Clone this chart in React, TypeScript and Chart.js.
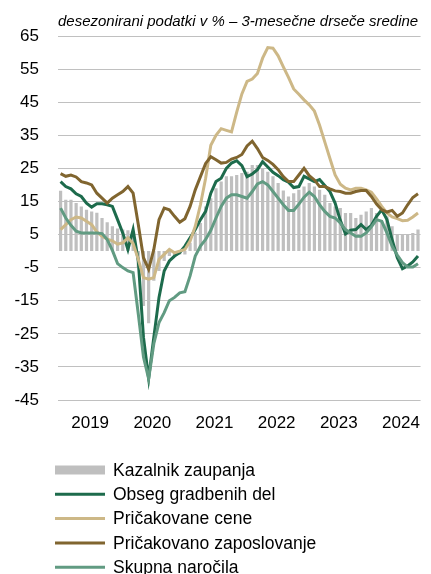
import React, { useEffect, useRef } from 'react';
import { Chart, registerables } from 'chart.js';

Chart.register(...registerables);

// ---- data ----
const YEARS = [2019, 2020, 2021, 2022, 2023, 2024];
const LAST_YEAR_MONTHS = 10;
const categories: string[] = [];
YEARS.forEach((y, k) => {
  const n = k === YEARS.length - 1 ? LAST_YEAR_MONTHS : 12;
  for (let m = 1; m <= n; m++) categories.push(`${m}/${y}`);
});

const Y_TICKS = [-45, -35, -25, -15, -5, 5, 15, 25, 35, 45, 55, 65];

const kazalnikZaupanja = [
  18.2, 15.5, 15.5, 14.5, 13.5, 12.5, 12, 11.6, 10, 8.7, 7.5, 6.8,
  6.5, 6.3, 6, -5, -16.6, -21.8, -9, -6, -3, -1.5, -1.2, -1,
  -1, 2.5, 5.6, 8.5, 13.5, 16, 19, 21, 22.6, 22.6, 23, 23.6,
  24, 26, 26, 25, 24, 22.6, 20.6, 18.3, 16.5, 17.5, 18.5, 19.5,
  20.6, 19.5, 18.5, 17, 14.5, 13.5, 13, 11.5, 11.5, 10, 11, 12,
  13, 11.5, 9, 10.5, 7.5, 5, 5, 5, 5.5, 6.5,
];

const obsegGradbenihDel = [
  21, 19.5, 18.8, 17.3, 16.5, 14.5, 13.3, 14.3, 14.3, 14, 13.5, 9.5,
  5.5, 0.5, 6.5, -3, -26, -38.5, -26, -14, -6, -3, -1.5, -0.5,
  1.5, 4, 6.5, 9.5, 12, 17.5, 21, 22, 25, 26.6, 27.3, 25.8,
  22.5, 23.3, 24.6, 27, 25.4, 23.8, 22.8, 21.6, 20.8, 19.2, 19.5, 22.6,
  21.8, 21, 21.6, 19.8, 18, 14.5, 9.3, 5.2, 6.3, 6.5, 8, 6.5,
  7.8, 10.5, 12.5, 9.5, 3.5, -2, -5.3, -4.5, -3.3, -1.5,
];

const pricakovaneCene = [
  6.5, 8, 9.5, 10.3, 10, 9, 8, 5.8, 4.5, 3.6, 3.1, 2.1,
  2.5, 4, 2.3, -2.5, -8, -8.5, -8, -2.5, -1, 0.5, -0.5, 0,
  0.5, 3, 7.5, 14, 22, 32, 35, 37, 36.5, 36, 42, 47.5,
  51.3, 52, 53.7, 58.3, 61.5, 61.3, 59, 55.7, 52.5, 49, 47.4, 45.7,
  44.2, 42.3, 38, 33, 28, 23, 20.2, 19, 18.5, 19, 19, 18.5,
  17.8, 15.8, 13.5, 11.5, 10.3, 9.8, 9.2, 9.3, 10.3, 11.5,
];

const pricakovanoZaposlovanje = [
  23.4, 22.6, 23, 22.4, 21, 20.6, 20, 17.5, 16, 14.5, 16, 17,
  18, 19.5, 17.5, 8, -2, -5.5, 0.5, 9.5, 13, 12.5, 10.5, 8.7,
  9.8, 13.5, 18.5, 22.5, 26.5, 28.5, 27.6, 26.6, 26.8, 27.8, 28.3, 29.2,
  31.8, 33.2, 31, 28.3, 27.4, 26.2, 24.6, 22.5, 21, 21, 23, 25,
  22.8, 21.5, 19.5, 19.5, 18.8, 18.2, 18, 17.5, 17.5, 18, 18.3, 18.3,
  16.5, 14.2, 12.5, 11.8, 12.3, 10.5, 11.5, 14, 16.2, 17.3,
];

const skupnaNarocila = [
  13, 10, 7.8, 6, 5.5, 5.5, 5.5, 5.5, 5.3, 3.5, 0.2, -3.8,
  -5, -6, -6.5, -19, -32, -38.6, -28, -21.6, -18.6, -15, -14, -12.6,
  -12.3, -7.5, -1.5, 1.5, 3.5, 6.3, 10, 13.5, 16, 17, 17, 16.5,
  16, 18, 20.3, 21, 20, 18, 16, 14, 12.3, 12.3, 14.2, 16.3,
  17.8, 16.5, 14, 12, 10.5, 10, 8.5, 6.5, 5.5, 4.5, 4.5, 5.5,
  7.3, 9.5, 9, 5.5, 1.5, -1.2, -3.5, -4.8, -4.8, -3.8,
];

const TITLE = 'desezonirani podatki v % – 3-mesečne drseče sredine';

const SERIES_NAMES = [
  'Kazalnik zaupanja',
  'Obseg gradbenih del',
  'Pričakovane cene',
  'Pričakovano zaposlovanje',
  'Skupna naročila',
];

const COLORS = ['#bfbfbf', '#1d6b4c', '#cdb887', '#80652f', '#619b82'];

const FONT = '"Liberation Sans", Arial, sans-serif';

const titlePlugin = {
  id: 'customTitle',
  afterDraw(chart: any) {
    const ctx = chart.ctx;
    ctx.save();
    ctx.font = `italic 15px ${FONT}`;
    ctx.fillStyle = '#000';
    ctx.textBaseline = 'alphabetic';
    ctx.textAlign = 'left';
    ctx.fillText(TITLE, chart.chartArea.left, 26);
    ctx.restore();
  },
};

const legendPlugin = {
  id: 'customLegend',
  afterDraw(chart: any) {
    const ctx = chart.ctx;
    ctx.save();
    ctx.font = `17.5px ${FONT}`;
    ctx.textBaseline = 'middle';
    ctx.textAlign = 'left';
    const x0 = 55;
    const w = 50;
    chart.data.datasets.forEach((ds: any, k: number) => {
      const y = 470 + k * 24.3;
      if (ds.type === 'bar') {
        ctx.fillStyle = ds.backgroundColor;
        ctx.fillRect(x0, y - 4.5, w, 9);
      } else {
        ctx.strokeStyle = ds.borderColor;
        ctx.lineWidth = 3;
        ctx.beginPath();
        ctx.moveTo(x0, y);
        ctx.lineTo(x0 + w, y);
        ctx.stroke();
      }
      ctx.fillStyle = '#000';
      ctx.fillText(ds.label, x0 + w + 8, y + 1);
    });
    ctx.restore();
  },
};

export default function App() {
  const ref = useRef<HTMLCanvasElement | null>(null);

  useEffect(() => {
    document.body.style.margin = '0';
    const canvas = ref.current;
    if (!canvas) return;
    const seriesData = [
      kazalnikZaupanja,
      obsegGradbenihDel,
      pricakovaneCene,
      pricakovanoZaposlovanje,
      skupnaNarocila,
    ];
    const datasets: any[] = seriesData.map((d, k) => {
      if (k === 0) {
        return {
          type: 'bar',
          label: SERIES_NAMES[k],
          data: d,
          backgroundColor: COLORS[k],
          borderWidth: 0,
          barPercentage: 0.62,
          categoryPercentage: 1,
          order: 10,
        };
      }
      return {
        type: 'line',
        label: SERIES_NAMES[k],
        data: d,
        borderColor: COLORS[k],
        backgroundColor: COLORS[k],
        borderWidth: 3,
        pointRadius: 0,
        tension: 0,
        fill: false,
        order: 5 - k,
      };
    });

    const chart = new Chart(canvas, {
      type: 'bar',
      data: { labels: categories, datasets },
      options: {
        animation: false,
        responsive: true,
        maintainAspectRatio: false,
        layout: { padding: { top: 36, bottom: 139, left: 0, right: 0 } },
        plugins: {
          legend: { display: false },
          title: { display: false },
          tooltip: { enabled: false },
        },
        scales: {
          x: {
            type: 'category',
            offset: true,
            grid: { display: false, drawTicks: false },
            border: { display: false },
            afterFit: (axis: any) => {
              axis.height = 35;
            },
            ticks: {
              autoSkip: false,
              maxRotation: 0,
              minRotation: 0,
              padding: 13,
              labelOffset: -1.5,
              color: '#000',
              font: { family: FONT, size: 17 },
              callback: (_v: any, index: number) => {
                if (index % 12 === 6) return String(YEARS[Math.floor(index / 12)]);
                return '';
              },
            },
          },
          y: {
            min: Y_TICKS[0],
            max: Y_TICKS[Y_TICKS.length - 1],
            afterFit: (axis: any) => {
              axis.width = 58;
            },
            afterBuildTicks: (axis: any) => {
              axis.ticks = Y_TICKS.map((v) => ({ value: v }));
            },
            grid: { color: '#c0c0c0', lineWidth: 1, drawTicks: false },
            border: { display: false },
            ticks: {
              padding: 19,
              color: '#000',
              font: { family: FONT, size: 17 },
            },
          },
        },
      },
      plugins: [titlePlugin, legendPlugin],
    });
    return () => chart.destroy();
  }, []);

  return (
    <div style={{ width: 431, height: 574, position: 'relative' }}>
      <canvas ref={ref} />
    </div>
  );
}
